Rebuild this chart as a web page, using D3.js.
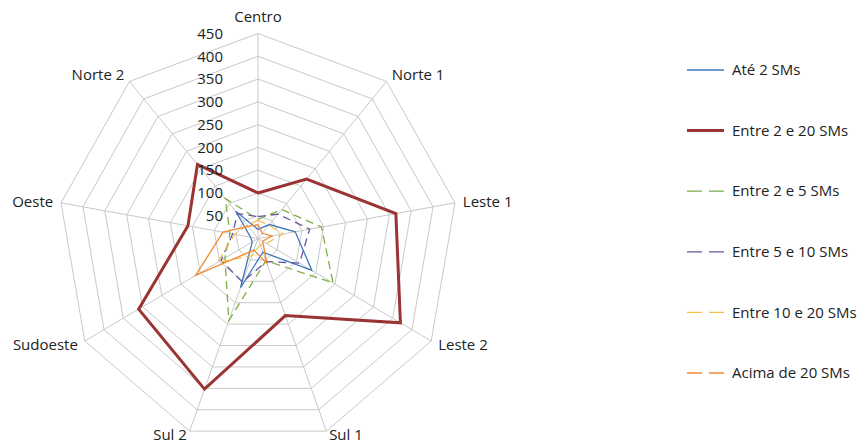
<!DOCTYPE html>
<html>
<head>
<meta charset="utf-8">
<script src="https://cdn.jsdelivr.net/npm/d3@7"></script>
<style>
  body { margin: 0; background: #fff; }
  svg { display: block; font-family: "Open Sans", "Noto Sans", sans-serif; }
</style>
</head>
<body>
<div id="chart"></div>
<script>
// Data
const categories = ['Centro', 'Norte 1', 'Leste 1', 'Leste 2', 'Sul 1', 'Sul 2', 'Sudoeste', 'Oeste', 'Norte 2'];
const tickValues = [50, 100, 150, 200, 250, 300, 350, 400, 450];

const ate2 = [20, 40, 85, 140, 32, 115, 15, 17, 78];
const entre2e20 = [100, 170, 315, 370, 180, 352, 310, 160, 212];
const entre2e5 = [42, 83, 145, 195, 52, 192, 86, 64, 115];
const entre5e10 = [48, 70, 118, 108, 54, 102, 96, 58, 72];
const entre10e20 = [40, 38, 57, 22, 15, 40, 105, 53, 38];
const acima20 = [30, 15, 32, 12, 58, 27, 162, 80, 35];

const seriesNames = ['Até 2 SMs', 'Entre 2 e 20 SMs', 'Entre 2 e 5 SMs', 'Entre 5 e 10 SMs', 'Entre 10 e 20 SMs', 'Acima de 20 SMs'];
const seriesValues = [ate2, entre2e20, entre2e5, entre5e10, entre10e20, acima20];

// Styles
const colors = ['#3e78bd', '#9a3433', '#7fae45', '#6a56a3', '#f9be48', '#ef8a31'];
const widths = [1.3, 3, 1.3, 1.3, 1.3, 1.3];
const chartDash = [null, null, '8,5', '8,5', '8,5', null];
const legendDash = [null, null, '15,7', '15,7', '15,7', '15,7'];

const width = 866, height = 447;
const cx = 258, cy = 238.5;

const svg = d3.select('#chart').append('svg')
    .attr('width', width)
    .attr('height', height);

// horizontal and vertical radius (the picture is a touch taller than wide)
const rx = d3.scaleLinear().domain([0, 450]).range([0, 200]);
const ry = d3.scaleLinear().domain([0, 450]).range([0, 205]);
const angle = d3.scalePoint().domain(categories).range([0, 2 * Math.PI * (categories.length - 1) / categories.length]);

const px = (c, v) => cx + rx(v) * Math.sin(angle(c));
const py = (c, v) => cy - ry(v) * Math.cos(angle(c));

// Grid rings
const grid = svg.append('g');
grid.selectAll('polygon')
    .data(tickValues)
    .enter().append('polygon')
        .attr('points', v => categories.map(c => px(c, v) + ',' + py(c, v)).join(' '))
        .attr('fill', 'none')
        .attr('stroke', '#c9c9c9')
        .attr('stroke-width', 1);

// Spokes
grid.selectAll('line')
    .data(categories)
    .enter().append('line')
        .attr('x1', cx)
        .attr('y1', cy)
        .attr('x2', c => px(c, 450))
        .attr('y2', c => py(c, 450))
        .attr('stroke', '#c9c9c9')
        .attr('stroke-width', 1);

// Series
const line = d3.line()
    .x((d, i) => px(categories[i], d))
    .y((d, i) => py(categories[i], d))
    .curve(d3.curveLinearClosed);

svg.append('g').selectAll('path')
    .data(seriesValues)
    .enter().append('path')
        .attr('d', d => line(d))
        .attr('fill', 'none')
        .attr('stroke', (d, i) => colors[i])
        .attr('stroke-width', (d, i) => widths[i])
        .attr('stroke-dasharray', (d, i) => chartDash[i])
        .attr('stroke-linejoin', 'miter');

// Tick labels along Centro axis
svg.append('g').selectAll('text')
    .data(tickValues)
    .enter().append('text')
        .attr('x', cx - 35)
        .attr('y', v => py(categories[0], v))
        .attr('dy', '0.35em')
        .attr('text-anchor', 'end')
        .attr('font-size', '15px')
        .attr('fill', '#222')
        .text(d => d);

// Category labels
const off = 450 * 8 / 200;
svg.append('g').selectAll('text')
    .data(categories)
    .enter().append('text')
        .attr('x', c => px(c, 450 + off))
        .attr('y', c => py(c, 450 + off))
        .attr('dy', c => {
            const cs = Math.cos(angle(c));
            if (cs > 0.9) return '-0.2em';
            if (cs < -0.9) return '0.1em';
            return '0.35em';
        })
        .attr('text-anchor', c => {
            const s = Math.sin(angle(c));
            return s > 0.1 ? 'start' : (s < -0.1 ? 'end' : 'middle');
        })
        .attr('font-size', '15px')
        .attr('fill', '#222')
        .text(d => d);

// Legend
const legend = svg.append('g')
    .selectAll('g')
    .data(seriesNames)
    .enter().append('g')
        .attr('transform', (d, i) => `translate(687, ${70 + i * 60.6})`);

legend.append('line')
    .attr('x1', 0)
    .attr('x2', 37)
    .attr('stroke', (d, i) => colors[i])
    .attr('stroke-width', (d, i) => widths[i])
    .attr('stroke-dasharray', (d, i) => legendDash[i]);

legend.append('text')
    .attr('x', 45)
    .attr('dy', '0.35em')
    .attr('font-size', '15px')
    .attr('fill', '#222')
    .text(d => d);
</script>
</body>
</html>
